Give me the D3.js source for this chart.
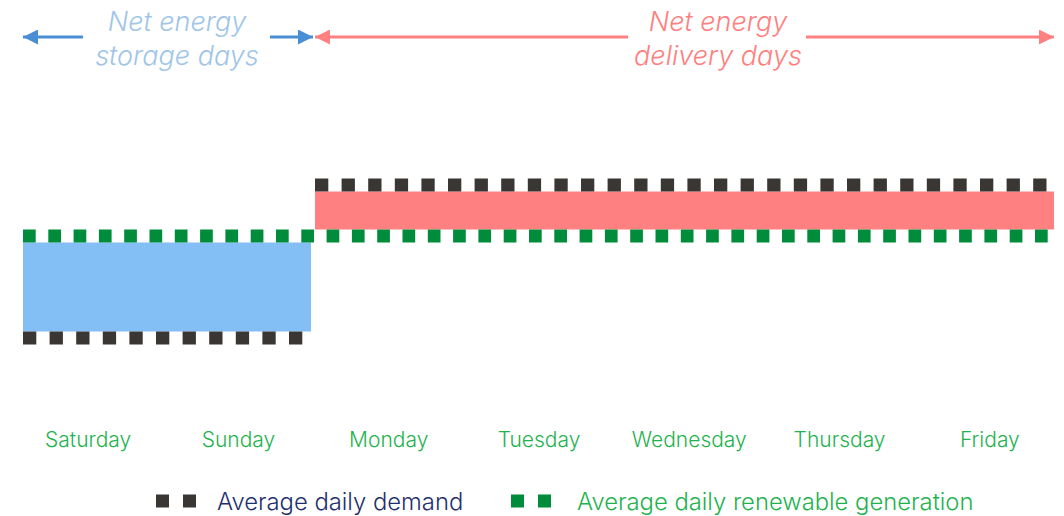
<!DOCTYPE html>
<html>
<head>
<meta charset="utf-8">
<script src="https://cdn.jsdelivr.net/npm/d3@7"></script>
<style>
  body { margin: 0; background: #fff; }
  svg { display: block; font-family: 'Inter', 'Lato', sans-serif; }
</style>
</head>
<body>
<svg width="1064" height="516"></svg>
<script>
// days of the week, starting with the weekend
const days = ['Saturday', 'Sunday', 'Monday', 'Tuesday', 'Wednesday', 'Thursday', 'Friday'];
// demand level per period (relative to generation)
const demandSegments = [
  { from: 0, to: 2, value: 0.6 },
  { from: 2, to: 7, value: 1.2 }
];
const generationLevel = 1.0;
const periods = [
  { from: 0, to: 2, label: ['Net energy', 'storage days'] },
  { from: 2, to: 7, label: ['Net energy', 'delivery days'] }
];
const legendItems = ['Average daily demand', 'Average daily renewable generation'];

const svg = d3.select('svg');

const x = d3.scaleLinear().domain([0, 2, 7]).range([23, 313, 1054]);
const dayX = d3.scaleBand().domain(days).range([13, 1065]);
const y = d3.scaleLinear().domain([0, 1.5]).range([491, 108.5]);

const lineW = 13;
const demandColor = '#3a3634';
const genColor = '#008c3a';

// fill between demand and generation
svg.selectAll('.gap')
  .data(demandSegments)
  .enter().append('rect')
    .attr('class', 'gap')
    .attr('x', d => x(d.from) + (d.from > 0 ? 2 : 0))
    .attr('width', d => x(d.to) - x(d.from) - 2)
    .attr('y', d => d.value > generationLevel ? y(d.value) + lineW / 2 : y(generationLevel) + lineW / 2)
    .attr('height', d => Math.abs(y(d.value) - y(generationLevel)) - lineW)
    .attr('fill', d => d.value > generationLevel ? '#ff8080' : '#83bef4');

// generation line
svg.append('line')
  .attr('x1', x(0)).attr('x2', x(7))
  .attr('y1', y(generationLevel)).attr('y2', y(generationLevel))
  .attr('stroke', genColor)
  .attr('stroke-width', lineW)
  .attr('stroke-dasharray', '12.7 12.6');

// demand lines
svg.selectAll('.demand')
  .data(demandSegments)
  .enter().append('line')
    .attr('class', 'demand')
    .attr('x1', d => x(d.from) + (d.from > 0 ? 2 : 0))
    .attr('x2', d => x(d.to))
    .attr('y1', d => y(d.value)).attr('y2', d => y(d.value))
    .attr('stroke', demandColor)
    .attr('stroke-width', lineW)
    .attr('stroke-dasharray', '13.3 13.3');

// day labels
svg.selectAll('.day')
  .data(days)
  .enter().append('text')
    .attr('class', 'day')
    .attr('x', d => dayX(d) + dayX.bandwidth() / 2)
    .attr('y', 447)
    .attr('text-anchor', 'middle')
    .attr('font-size', 21)
    .attr('font-weight', 300)
    .attr('fill', '#1fb24f')
    .text(d => d);

// arrow markers
const defs = svg.append('defs');
[['blue', '#4a8fd4'], ['red', '#ff8080']].forEach(([id, c]) => {
  defs.append('marker')
    .attr('id', 'arr-' + id)
    .attr('viewBox', '0 0 10 10')
    .attr('refX', 10).attr('refY', 5)
    .attr('markerWidth', 5).attr('markerHeight', 5)
    .attr('orient', 'auto-start-reverse')
    .attr('markerUnits', 'strokeWidth')
    .append('path').attr('d', 'M0,0L10,5L0,10Z').attr('fill', c);
});

const periodStyle = [
  { arrow: 'blue', line: '#4a8fd4', text: '#9fc5e8', textX: 177, gapL: 83, gapR: 270 },
  { arrow: 'red', line: '#ff8080', text: '#ff7f7f', textX: 718, gapL: 628, gapR: 806 }
];

periods.forEach((p, i) => {
  const s = periodStyle[i];
  const x0 = x(p.from) + (p.from > 0 ? 2 : 0);
  const x1 = x(p.to);
  svg.append('line')
    .attr('x1', s.gapL).attr('x2', x0)
    .attr('y1', 37).attr('y2', 37)
    .attr('stroke', s.line).attr('stroke-width', 3)
    .attr('marker-end', `url(#arr-${s.arrow})`);
  svg.append('line')
    .attr('x1', s.gapR).attr('x2', x1)
    .attr('y1', 37).attr('y2', 37)
    .attr('stroke', s.line).attr('stroke-width', 3)
    .attr('marker-end', `url(#arr-${s.arrow})`);
  const t = svg.append('text')
    .attr('x', s.textX)
    .attr('text-anchor', 'middle')
    .attr('font-size', 27)
    .attr('font-style', 'italic')
    .attr('font-weight', 300)
    .attr('fill', s.text);
  p.label.forEach((l, j) => {
    t.append('tspan').attr('x', s.textX).attr('y', 31 + j * 34).text(l);
  });
});

// legend
const legend = svg.append('g').attr('transform', 'translate(156, 501)');
const legendX = [0, 355];
const legendTextX = [61, 66];
const legendColors = [demandColor, genColor];
const legendText = ['#1f2f6e', '#1fb24f'];
legendItems.forEach((item, i) => {
  const g = legend.append('g').attr('transform', `translate(${legendX[i]},0)`);
  g.selectAll('rect').data([0, 1]).enter().append('rect')
    .attr('x', d => d * 27).attr('y', -6.5)
    .attr('width', 13).attr('height', 13)
    .attr('fill', legendColors[i]);
  g.append('text')
    .attr('x', legendTextX[i]).attr('y', 8.5)
    .attr('font-size', 23.8)
    .attr('font-weight', 300)
    .attr('fill', legendText[i])
    .text(item);
});
</script>
</body>
</html>
